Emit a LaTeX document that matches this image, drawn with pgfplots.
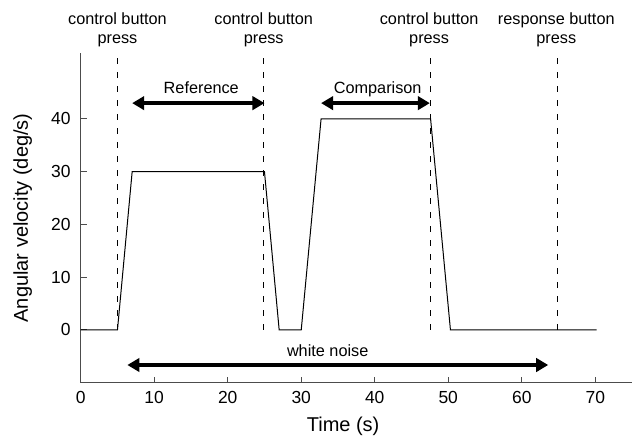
\documentclass[border=0pt]{standalone}
\usepackage{pgfplots}
\pgfplotsset{compat=1.18}
\usepackage{fontspec}
\setmainfont{Liberation Sans}
\usetikzlibrary{arrows.meta}
\begin{document}
\begin{tikzpicture}
\begin{axis}[
  scale only axis,
  width=413.5pt, height=247.3pt,
  xmin=0, xmax=75, ymin=-10, ymax=52.5,
  axis lines=left,
  axis line style={-, line width=0.75pt, black!70},
  xtick={0,10,...,70}, ytick={0,10,...,40},
  tick style={line width=0.75pt, black!70},
  major tick length=4.5pt,
  tick align=inside,
  /pgf/number format/assume math mode=true,
  tick label style={font=\fontsize{13.1}{15}\selectfont},
  xticklabel style={yshift=-3pt},
  yticklabel style={xshift=-4pt},
  xlabel={Time (s)},
  ylabel={Angular velocity (deg/s)},
  every axis x label/.style={at={(rel axis cs:0.476,-0.1335)}, anchor=center, font=\fontsize{15}{18}\selectfont},
  every axis y label/.style={at={(rel axis cs:-0.105,0.5)}, anchor=center, rotate=90, font=\fontsize{15}{18}\selectfont},
  clip=false,
]
\path (rel axis cs:-0.1464,-0.1647) rectangle (rel axis cs:1.0018,1.1608);
% velocity profile
\addplot[black, line width=0.75pt] coordinates {(0,0)(5,0)(7,30)(25,30)(27,0)(30,0)(32.7,40)(47.6,40)(50.3,0)(70.2,0)};
% dashed event lines
\addplot[black, line width=0.75pt, dash pattern=on 4.5pt off 6pt] coordinates {(5,0)(5,52.6)};
\addplot[black, line width=0.75pt, dash pattern=on 4.5pt off 6pt] coordinates {(24.9,0)(24.9,52.6)};
\addplot[black, line width=0.75pt, dash pattern=on 4.5pt off 6pt] coordinates {(47.6,0)(47.6,52.6)};
\addplot[black, line width=0.75pt, dash pattern=on 4.5pt off 6pt] coordinates {(64.9,0)(64.9,52.6)};
% arrows
\addplot[black, line width=3pt, {Triangle[length=9pt,width=10pt]}-{Triangle[length=9pt,width=10pt]}] coordinates {(7,43)(25,43)};
\addplot[black, line width=3pt, {Triangle[length=9pt,width=10pt]}-{Triangle[length=9pt,width=10pt]}] coordinates {(32.7,43)(47.5,43)};
\addplot[black, line width=3pt, {Triangle[length=9pt,width=10pt]}-{Triangle[length=9pt,width=10pt]}] coordinates {(6.35,-6.64)(63.6,-6.64)};
% labels
\begin{scope}[every node/.style={font=\fontsize{12.2}{14.4}\selectfont}]
\node[anchor=base] at (axis cs:16.4,44.8) {Reference};
\node[anchor=base] at (axis cs:40.4,44.8) {Comparison};
\node[anchor=base] at (axis cs:33.6,-5.07) {white noise};
\node[align=center] at (axis cs:5,56.9) {control button\\press};
\node[align=center] at (axis cs:24.9,56.9) {control button\\press};
\node[align=center] at (axis cs:47.4,56.9) {control button\\press};
\node[align=center] at (axis cs:64.7,56.9) {response button\\press};
\end{scope}
\end{axis}
\end{tikzpicture}
\end{document}
